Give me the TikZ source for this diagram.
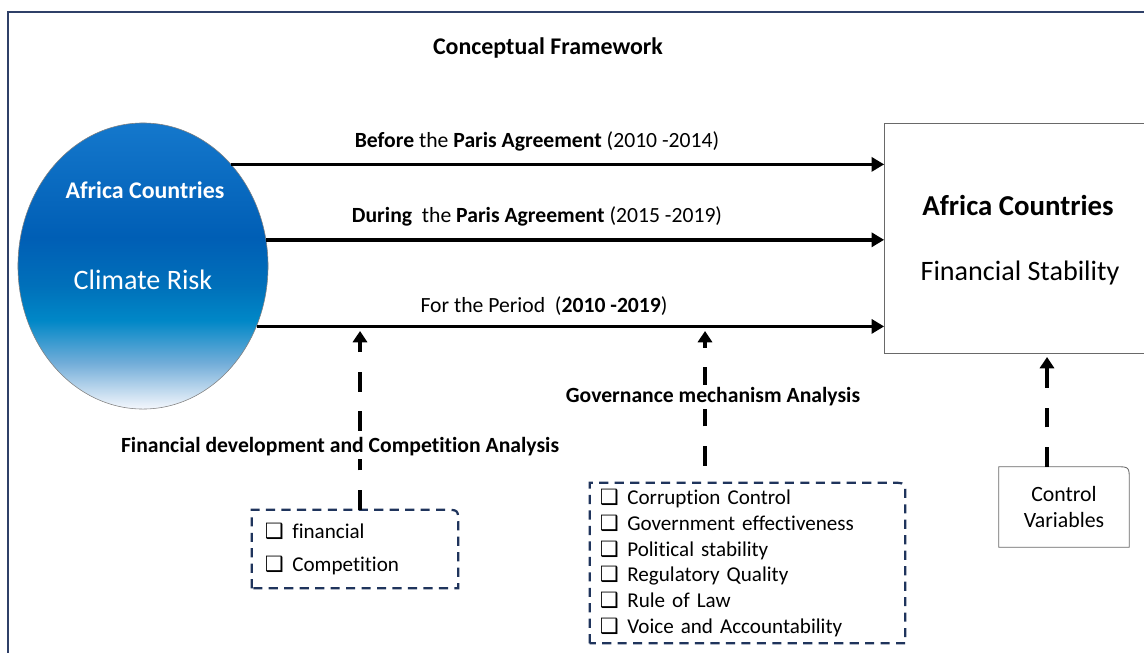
\documentclass[tikz,border=0pt]{standalone}
\usepackage{fontspec}
\setmainfont{Carlito}[Ligatures=NoCommon]
\newfontfamily\symfont{DejaVu Sans}
\usepackage{tikz}
\usetikzlibrary{shapes.geometric,calc,arrows.meta,positioning}

\definecolor{framenavy}{RGB}{47,64,104}
\definecolor{dashnavy}{RGB}{31,52,92}
\definecolor{boxgray}{RGB}{105,105,105}
\pgfdeclareverticalshading{climate}{100bp}{%
  rgb(0bp)=(0.96,0.97,0.99); rgb(25bp)=(0.96,0.97,0.99); rgb(33bp)=(0.45,0.68,0.85);
  rgb(40.5bp)=(0,0.53,0.78); rgb(46.5bp)=(0,0.44,0.73);
  rgb(55bp)=(0,0.37,0.71); rgb(75bp)=(0.08,0.47,0.80); rgb(100bp)=(0.08,0.47,0.80)}
\newcommand{\fsz}[2]{\fontsize{#1}{#2}\selectfont}
\newcommand{\chk}{{\symfont\fsz{15}{15}^^^^2751}\hspace{6pt}}
% outline with only the north east corner rounded
\newcommand{\nebox}[2]{%
  \draw[#2] (#1.south west) -- (#1.north west) -- ([xshift=-10pt]#1.north east)
    .. controls (#1.north east) .. ([yshift=-10pt]#1.north east) -- (#1.south east) -- cycle;}

\begin{document}
\begin{tikzpicture}[x=0.025cm, y=-0.025cm,
    lbl/.style={font=\fsz{15.4}{18}, inner sep=1pt},
    head/.style={font=\fsz{15.4}{18}\bfseries, fill=white, inner sep=2pt},
    flow/.style={line width=2.6pt, -{Triangle[length=9pt,width=10pt]}},
    feed/.style={line width=3.4pt, dash pattern=on 14pt off 14pt, -{Triangle[length=8pt,width=10pt]}},
    itembox/.style={font=\fsz{15}{18.4}, align=left, inner ysep=0pt},
    dashline/.style={draw=dashnavy, line width=1.6pt, dash pattern=on 6.5pt off 4.5pt}]
    \useasboundingbox (0,0) rectangle (1144,652);
    \draw[framenavy, line width=1pt] (8,12) rectangle (1170,680);

    % title
    \node[font=\fsz{17}{20}\bfseries] (title) at (548,48) {Conceptual Framework};

    % climate risk ellipse
    \node[ellipse, draw=gray, shade, shading=climate, minimum width=6.25cm,
          minimum height=7.15cm, inner sep=0pt] (risk) at (143,266) {};
    \node[font=\fsz{17}{20}\bfseries, text=white] (riskname) at (145,190) {Africa Countries};
    \node[font=\fsz{20}{24}, text=white] (risktxt) at (143,280) {Climate Risk};

    % financial stability box
    \node[draw=boxgray, minimum width=7.375cm, minimum height=5.75cm, inner sep=0pt] (stab) at (1032,238) {};
    \node[font=\fsz{20.5}{24}\bfseries] (stabname) at (1018,205) {Africa Countries};
    \node[font=\fsz{20}{24}] (stabtxt) at (1020,273) {Financial Stability};

    % periods
    \draw[flow] (risk.49.8) -- (risk.49.8 -| stab.west);
    \draw[flow] (risk.12.9) -- (risk.12.9 -| stab.west);
    \draw[flow] (risk.-28.4) -- (risk.-28.4 -| stab.west);
    \node[lbl] (before) at (537,141) {\textbf{Before} the \textbf{Paris Agreement} (2010 -2014)};
    \node[lbl] (during) at (537,216) {\textbf{During}\ \ the \textbf{Paris Agreement} (2015 -2019)};
    \node[lbl] (period) at (544,306) {For the Period\ \ (\textbf{2010 -2019})};

    % analysis boxes
    \node[itembox, font=\fsz{15}{24}, text width=4.5cm, inner xsep=0.325cm,
          minimum height=1.95cm] (fin) at (355,549) {\chk financial\\ \chk Competition};
    \nebox{fin}{dashline}
    \node[itembox, text width=7.375cm, inner xsep=0.25cm, minimum height=4cm] (gov) at (747.5,563)
      {\chk Corruption Control\\ \chk Government effectiveness\\ \chk Political stability\\
       \chk Regulatory Quality\\ \chk Rule of Law\\ \chk Voice and Accountability};
    \nebox{gov}{dashline}
    \node[font=\fsz{15.5}{18.4}, align=center, minimum width=3.25cm, minimum height=2cm,
          inner sep=0pt] (ctrl) at (1064,507) {Control\\Variables};
    \nebox{ctrl}{draw=boxgray, line width=0.6pt}

    % dashed links
    \coordinate (finhit) at (360,331);
    \coordinate (govhit) at (705,331);
    \coordinate (ctrlhit) at (1047,357);
    \draw[feed] (fin.north -| finhit) -- (finhit);
    \draw[feed, dash phase=16pt] (gov.north -| govhit) -- (govhit);
    \draw[feed] (ctrl.north -| ctrlhit) -- (ctrlhit);
    \node[head] (finlabel) at (340,447) {Financial development and Competition Analysis};
    \node[head] (govlabel) at (713,397) {Governance mechanism Analysis};
\end{tikzpicture}
\end{document}
